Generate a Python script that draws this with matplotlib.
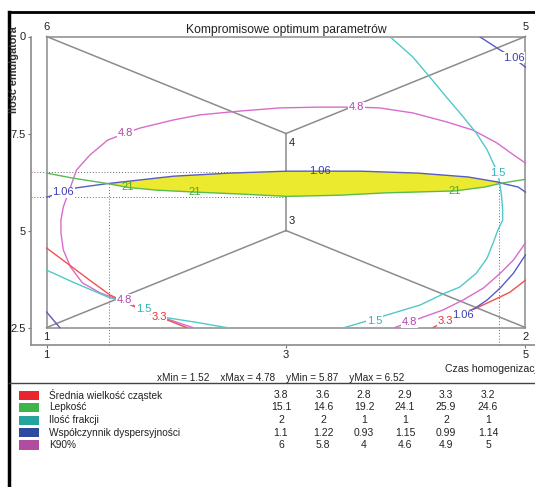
import matplotlib
matplotlib.use("Agg")
import matplotlib.pyplot as plt
from matplotlib.patches import Rectangle
from matplotlib.lines import Line2D

plt.rcParams['font.family'] = ['Liberation Sans', 'DejaVu Sans']

# ---------------- data ----------------
title = "Kompromisowe optimum parametrów"
x_label = "Czas homogenizacji"
y_label = "Ilość emulgatora"

# design points 1..6
pt_x = [1, 5, 3, 3, 5, 1]
pt_y = [2.5, 2.5, 5, 7.5, 10, 10]
pt_names = ["1", "2", "3", "4", "5", "6"]
edges = [(1, 2), (2, 5), (5, 6), (6, 1), (6, 4), (4, 5), (1, 3), (3, 2), (3, 4)]

x_ticks = [1, 3, 5]
x_tick_labels = ["1", "3", "5"]
y_ticks = [10, 7.5, 5, 2.5]
y_tick_labels = ["0", "7.5", "5", "2.5"]

x_min, x_max, y_min, y_max = 1.52, 4.78, 5.87, 6.52

# contour curves (data units)
# K90% = 4.8
k90_a_x = [2.22, 1.99, 1.76, 1.59, 1.45, 1.30, 1.20, 1.14, 1.12, 1.12, 1.14, 1.20, 1.25, 1.36, 1.51,
           1.66, 1.78, 2.06, 2.28, 2.62, 2.95, 3.28, 3.59, 3.78, 4.06, 4.34, 4.56, 4.76, 4.90, 5.00]
k90_a_y = [2.50, 2.74, 3.03, 3.23, 3.39, 3.65, 4.06, 4.50, 4.94, 5.27, 5.61, 6.12, 6.56, 6.94, 7.33,
           7.51, 7.64, 7.85, 7.98, 8.08, 8.16, 8.18, 8.18, 8.16, 8.03, 7.80, 7.59, 7.26, 6.95, 6.74]
k90_b_x = [5.00, 4.90, 4.79, 4.65, 4.48, 4.31, 4.12, 3.91]
k90_b_y = [4.68, 4.24, 3.90, 3.52, 3.21, 2.95, 2.74, 2.50]

# Ilość frakcji = 1.5
frak_a_x = [3.87, 4.06, 4.20, 4.34, 4.48, 4.59, 4.68, 4.73, 4.76, 4.78, 4.80, 4.81, 4.81, 4.77,
            4.73, 4.68, 4.59, 4.45, 4.33, 4.12, 3.84, 3.49]
frak_a_y = [9.99, 9.47, 8.96, 8.44, 7.93, 7.51, 7.08, 6.74, 6.56, 6.31, 5.91, 5.53, 5.27, 5.01,
            4.68, 4.29, 3.90, 3.54, 3.39, 3.08, 2.82, 2.50]
frak_b_x = [1.00, 1.22, 1.51, 1.81, 1.97, 2.28, 2.50]
frak_b_y = [3.98, 3.67, 3.29, 2.98, 2.77, 2.62, 2.50]

# Średnia wielkość cząstek = 3.3
sred_a_x = [1.00, 1.17, 1.36, 1.53, 1.76, 1.91, 1.97, 2.17]
sred_a_y = [4.55, 4.16, 3.72, 3.34, 3.00, 2.80, 2.74, 2.50]
sred_b_x = [5.00, 4.87, 4.79, 4.59, 4.39, 4.33, 4.23]
sred_b_y = [3.72, 3.41, 3.29, 3.00, 2.80, 2.67, 2.50]

# Współczynnik dyspersyjności = 1.06
wsp_a_x = [4.62, 4.79, 4.90, 5.00]
wsp_a_y = [9.99, 9.65, 9.45, 9.21]
wsp_b_x = [1.00, 1.14, 1.25, 1.51, 2.06, 2.53, 3.01, 3.28, 3.62, 4.10, 4.52, 4.77, 4.80, 4.94, 5.00]
wsp_b_y = [5.86, 5.99, 6.10, 6.21, 6.40, 6.48, 6.53, 6.53, 6.53, 6.48, 6.38, 6.25, 6.22, 6.12, 5.99]
wsp_c_x = [1.00, 1.11]
wsp_c_y = [2.90, 2.50]
wsp_d_x = [5.00, 4.90, 4.79, 4.68, 4.58, 4.48]
wsp_d_y = [4.37, 3.90, 3.52, 3.21, 3.00, 2.82]

# Lepkość = 21
lep_x = [1.00, 1.22, 1.51, 1.68, 1.92, 2.24, 2.62, 3.01, 3.45, 3.83, 4.41, 4.66, 4.80, 5.00]
lep_y = [6.48, 6.35, 6.21, 6.11, 6.04, 5.99, 5.94, 5.88, 5.91, 5.97, 6.02, 6.12, 6.22, 6.32]

# contour label positions
k90_labels = [(1.66, 7.51), (3.59, 8.18), (1.65, 3.22), (4.03, 2.64)]
frak_labels = [(4.77, 6.49), (3.74, 2.67), (1.81, 2.99)]
sred_labels = [(1.94, 2.76), (4.33, 2.67)]
wsp_labels = [(4.90, 9.45), (1.14, 5.99), (3.28, 6.53), (4.48, 2.82)]
lep_labels = [(1.68, 6.11), (2.24, 5.99), (4.41, 6.02)]

# table
resp_names = ["Średnia wielkość cząstek", "Lepkość", "Ilość frakcji",
              "Współczynnik dyspersyjności", "K90%"]
resp_values = [
    ["3.8", "3.6", "2.8", "2.9", "3.3", "3.2"],
    ["15.1", "14.6", "19.2", "24.1", "25.9", "24.6"],
    ["2", "2", "1", "1", "2", "1"],
    ["1.1", "1.22", "0.93", "1.15", "0.99", "1.14"],
    ["6", "5.8", "4", "4.6", "4.9", "5"],
]
resp_colors = ["#e8262b", "#3db54a", "#27a39d", "#2c4a9e", "#b14da1"]

# ---------------- figure ----------------
W, H = 535, 487
fig = plt.figure(figsize=(W / 100, H / 100), dpi=100)

def fx(px):
    return px / W

def fy(py):
    return 1 - py / H

ax = fig.add_axes([fx(31), fy(345), 1 - fx(31), fy(36.5) - fy(345)])
ax.set_xlim(0.87, 5.08)
ax.set_ylim(2.05, 10.0)
for s in ["top", "right"]:
    ax.spines[s].set_visible(False)
for s in ["left", "bottom"]:
    ax.spines[s].set_color("#8a8a8a")
    ax.spines[s].set_linewidth(1.2)
ax.set_xticks(x_ticks)
ax.set_xticklabels(x_tick_labels)
ax.set_yticks(y_ticks)
ax.set_yticklabels(y_tick_labels)
ax.tick_params(length=2.5, width=0.8, color="#777777", labelsize=8, pad=1, labelcolor="#222222")

grey = "#8c8c8c"
for a, b in edges:
    ax.plot([pt_x[a - 1], pt_x[b - 1]], [pt_y[a - 1], pt_y[b - 1]],
            color=grey, lw=1.1, zorder=2, clip_on=False)

# dotted guide lines
dot = dict(color="#666666", lw=0.7, ls=(0, (1, 2)), zorder=1, clip_on=False)
ax.plot([0.87, 3.3], [y_max, y_max], **dot)
ax.plot([0.87, 3.0], [y_min, y_min], **dot)
ax.plot([x_min, x_min], [2.05, 6.21], **dot)
ax.plot([x_max, x_max], [2.05, 6.22], **dot)

# yellow compromise region (between upper blue and lower green)
i0, i1 = wsp_b_x.index(1.51), wsp_b_x.index(4.80)
j0, j1 = lep_x.index(1.51), lep_x.index(4.80)
top_x, top_y = wsp_b_x[i0:i1 + 1], wsp_b_y[i0:i1 + 1]
bot_x, bot_y = lep_x[j0:j1 + 1], lep_y[j0:j1 + 1]
ax.fill(top_x + bot_x[::-1], top_y + bot_y[::-1], color="#ecea2e", zorder=3, lw=0)

c_red, c_green, c_cyan, c_blue, c_mag = "#f05050", "#58bc50", "#52c8c8", "#5a5ac8", "#d86ccc"
t_red, t_green, t_cyan, t_blue, t_mag = "#e83232", "#44aa3c", "#30b4b8", "#3c3cb4", "#b044a8"

lw = 1.0
kw = dict(lw=lw, zorder=4, solid_joinstyle="round")
ax.plot(k90_a_x, k90_a_y, color=c_mag, **kw)
ax.plot(k90_b_x, k90_b_y, color=c_mag, **kw)
ax.plot(frak_a_x, frak_a_y, color=c_cyan, **kw)
ax.plot(frak_b_x, frak_b_y, color=c_cyan, **kw)
ax.plot(sred_a_x, sred_a_y, color=c_red, **kw)
ax.plot(sred_b_x, sred_b_y, color=c_red, **kw)
ax.plot(wsp_a_x, wsp_a_y, color=c_blue, **kw)
ax.plot(wsp_b_x, wsp_b_y, color=c_blue, **kw)
ax.plot(wsp_c_x, wsp_c_y, color=c_blue, **kw)
ax.plot(wsp_d_x, wsp_d_y, color=c_blue, **kw)
ax.plot(lep_x, lep_y, color=c_green, **kw)

def put_labels(pos, txt, col):
    for (x, y) in pos:
        in_yellow = (1.6 < x < 4.5) and (5.85 < y < 6.6)
        bbox = None if in_yellow else dict(boxstyle="square,pad=0.05", fc="white", ec="none")
        ax.text(x, y, txt, color=col, fontsize=8, ha="center", va="center", zorder=6, bbox=bbox)

put_labels(k90_labels, "4.8", t_mag)
put_labels(frak_labels, "1.5", t_cyan)
put_labels(sred_labels, "3.3", t_red)
put_labels(wsp_labels, "1.06", t_blue)
put_labels(lep_labels, "21", t_green)

# design point labels
offs = {"1": (0, -7), "2": (0, -7), "3": (4, 7), "4": (4, -7), "5": (0, 7), "6": (0, 7)}
for x, y, n in zip(pt_x, pt_y, pt_names):
    ax.annotate(n, (x, y), xytext=offs[n], textcoords="offset points",
                ha="center", va="center", fontsize=8, color="#222222", zorder=7,
                annotation_clip=False)

ax.text(3, 10.0, title, ha="center", va="bottom", fontsize=8.7, color="#222222")

fig.text(fx(14), fy(70), y_label, rotation=90, ha="center", va="center",
         fontsize=7.8, fontweight="bold", color="#333333")
fig.text(fx(445), fy(369), x_label, ha="left", va="center", fontsize=7.6, color="#222222")

# info line
fig.text(fx(281), fy(378),
         f"xMin = {x_min:.2f}    xMax = {x_max:.2f}    yMin = {y_min:.2f}    yMax = {y_max:.2f}",
         ha="center", va="center", fontsize=7.2, color="#222222")

# frame lines
fig.add_artist(Line2D([fx(9), fx(9)], [fy(12), 0], color="black", lw=2.5))
fig.add_artist(Line2D([fx(9), 1], [fy(12), fy(12)], color="black", lw=2))
fig.add_artist(Line2D([fx(9), 1], [fy(383), fy(383)], color="#444444", lw=1))

# table
row_y = [395, 407.5, 420, 432.5, 445]
col_x = [281, 323, 364, 405, 446, 488]
for i, (name, vals, col) in enumerate(zip(resp_names, resp_values, resp_colors)):
    yy = row_y[i]
    fig.add_artist(Rectangle((fx(19), fy(yy + 4.5)), fx(20), fy(yy - 4.5) - fy(yy + 4.5),
                             fc=col, ec="none"))
    fig.text(fx(49), fy(yy), name, ha="left", va="center", fontsize=7.3, color="#222222")
    for cx, v in zip(col_x, vals):
        fig.text(fx(cx), fy(yy), v, ha="center", va="center", fontsize=7.5, color="#222222")

fig.savefig("out.png", dpi=100)
